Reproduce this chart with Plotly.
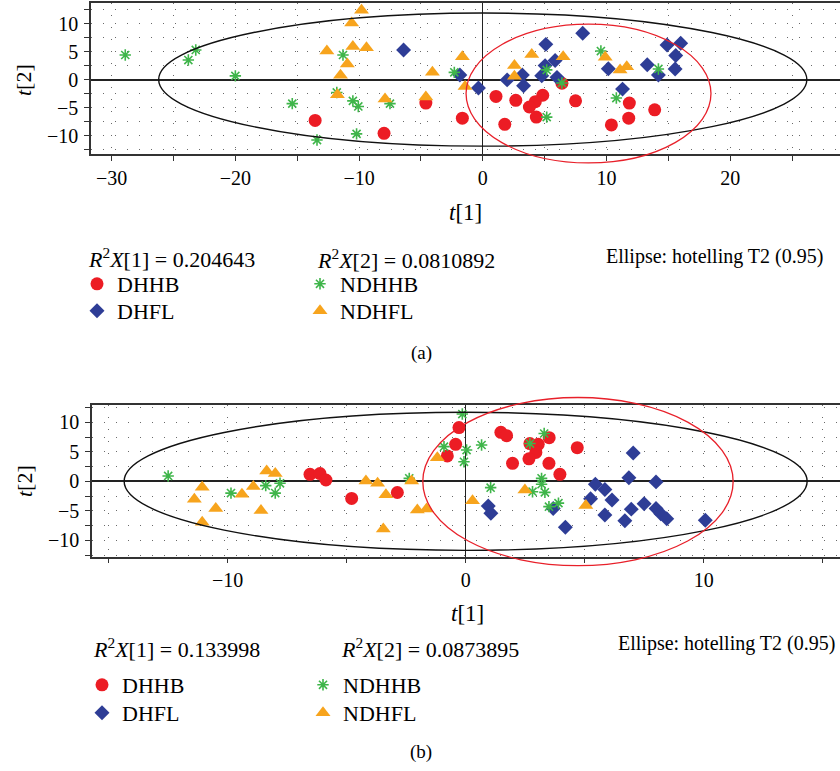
import plotly.graph_objects as go

W, H = 840, 771

# ---------------- panel (a) data ----------------
a_dhhb_x = [-13.55, -7.98, -4.6, -1.65, 1.07, 2.67, 4.85, 4.25, 3.77, 4.33, 1.78, 7.5, 6.4, 11.85, 13.9, 11.8, 10.4]
a_dhhb_y = [-7.3, -9.6, -4.2, -6.9, -3.0, -3.7, -2.8, -3.95, -4.9, -6.7, -8.0, -3.8, -0.65, -4.2, -5.4, -6.9, -8.1]
a_dhfl_x = [-6.4, -1.85, -0.35, 1.97, 3.2, 3.3, 4.77, 6.0, 5.1, 5.04, 5.85, 8.08, 10.15, 13.3, 14.2, 15.55, 14.9, 16.0, 15.6, 11.3]
a_dhfl_y = [5.3, 0.84, -1.5, -0.05, 0.84, -1.1, 0.7, 0.4, 6.3, 2.5, 3.4, 8.3, 1.95, 2.65, 0.84, 1.9, 6.2, 6.5, 4.3, -1.7]
a_ndhhb_x = [-28.9, -23.2, -23.8, -20.0, -15.4, -13.4, -11.3, -11.8, -10.5, -10.06, -10.2, -7.5, -2.3, 5.17, 6.4, 5.17, 9.55, 14.2, 10.8]
a_ndhhb_y = [4.4, 5.3, 3.5, 0.66, -4.3, -10.8, 4.4, -2.3, -3.8, -4.8, -9.7, -4.3, 1.3, 1.73, -0.6, -6.7, 5.1, 1.9, -3.3]
a_ndhfl_x = [-9.8, -10.6, -12.6, -10.5, -9.4, -10.95, -11.5, -11.75, -7.9, -4.6, -4.07, -1.65, -1.43, 3.96, 6.5, 2.56, 2.56, 9.9, 11.1, 11.64]
a_ndhfl_y = [12.4, 10.1, 5.1, 5.9, 5.7, 2.8, 0.8, -2.7, -3.45, -3.1, 1.3, 4.1, -1.25, 4.5, 4.1, 2.5, 0.6, 4.0, 1.73, 2.3]
a_r2x1 = "0.204643"
a_r2x2 = "0.0810892"
a_hot_ellipse = (0.0, 0.0, 26.2, 11.9)      # cx, cy, semi-x, semi-y
a_red_ellipse = (8.55, -2.5, 9.9, 12.4)
a_xticks = [-30, -20, -10, 0, 10, 20]
a_yticks = [-10, -5, 0, 5, 10]

# ---------------- panel (b) data ----------------
b_dhhb_x = [-6.54, -6.12, -5.87, -4.79, -2.87, -0.77, -0.42, -0.28, 1.48, 1.72, 3.51, 2.7, 3.05, 2.95, 4.69, 1.97, 2.66, 3.5, 3.96]
b_dhhb_y = [1.18, 1.3, 0.22, -2.9, -1.9, 4.3, 6.27, 9.1, 8.3, 7.73, 7.4, 6.4, 6.27, 4.9, 5.7, 3.05, 3.8, 3.05, 1.18]
b_dhfl_x = [0.95, 1.06, 3.68, 4.19, 7.04, 6.86, 8.0, 5.45, 5.85, 5.25, 6.15, 5.85, 6.69, 6.96, 7.5, 8.0, 8.2, 8.45, 10.07]
b_dhfl_y = [-4.2, -5.4, -4.6, -7.8, 4.8, 0.6, -0.1, -0.5, -1.4, -2.95, -3.17, -5.7, -6.7, -4.72, -3.8, -4.6, -5.5, -6.35, -6.6]
b_ndhhb_x = [-12.5, -9.86, -8.4, -7.8, -8.0, -2.37, -0.91, -0.14, 0.04, -0.07, 0.67, 3.3, 2.7, 3.19, 3.19, 3.33, 2.81, 1.05, 3.9, 3.5]
b_ndhhb_y = [0.9, -2.0, -0.74, -0.34, -2.0, 0.5, 5.87, 11.4, 5.3, 3.3, 6.15, 8.1, 6.4, 0.5, -0.5, -1.87, -1.76, -1.08, -3.7, -4.3]
b_ndhfl_x = [-11.07, -11.4, -10.5, -11.07, -9.4, -8.92, -8.36, -8.0, -8.6, -4.19, -3.7, -3.35, -3.46, -2.03, -1.64, -2.27, -1.19, 0.29, 2.49, 5.05]
b_ndhfl_y = [-1.0, -3.05, -4.6, -6.95, -2.2, -0.9, 1.75, 1.3, -4.97, 0.05, -0.34, -2.3, -8.1, -4.87, -4.7, 0.05, 4.0, -3.3, -1.47, -4.1]
b_r2x1 = "0.133998"
b_r2x2 = "0.0873895"
b_hot_ellipse = (0.0, 0.0, 14.35, 11.7)
b_red_ellipse = (4.72, -0.05, 6.52, 14.25)
b_xticks = [-10, 0, 10]
b_yticks = [-10, -5, 0, 5, 10]

group_names = ["DHHB", "DHFL", "NDHHB", "NDHFL"]

# ---------------- styles ----------------
FONT = "Liberation Serif"
RED = "#ec1c24"
BLUE = "#2e3d96"
GREEN = "#3fb54a"
ORANGE = "#f7a41d"
GRID = "#6a6a6a"
FRAME = "#333333"
GRIDDASH = "1px,11px"
TICK_SIZE = 20
TEXT_SIZE = 22

styles = {
    "DHHB": dict(symbol="circle", size=13, color=RED, line=dict(width=0)),
    "DHFL": dict(symbol="diamond", size=11.5, color=BLUE, line=dict(width=0)),
    "NDHHB": dict(symbol="asterisk-open", size=9.5, color=GREEN, line=dict(width=1.6, color=GREEN)),
    "NDHFL": dict(symbol="triangle-up", size=13, color=ORANGE, line=dict(width=0)),
}

# layout geometry (pixels)
A_LEFT, A_TOP, A_BOTTOM = 91, 3.3, 154
B_LEFT, B_TOP, B_BOTTOM = 92, 405, 556.7
A_XRANGE = [-31.67, 28.88]
A_YRANGE = [-13.3, 13.64]
B_XRANGE = [-15.70, 15.73]
B_YRANGE = [-12.78, 12.93]
# legend symbol centres (pixels) per panel, in group order
A_LEG = [(97, 284), (97, 311), (320, 284), (320, 311)]
B_LEG = [(102, 685), (102, 713), (323, 685), (323, 713)]


def py(p):
    return 1 - p / H


def px(p):
    return p / W


fig = go.Figure()

panels = [
    ("x", "y", [(a_dhhb_x, a_dhhb_y), (a_dhfl_x, a_dhfl_y), (a_ndhhb_x, a_ndhhb_y), (a_ndhfl_x, a_ndhfl_y)], A_LEG),
    ("x2", "y2", [(b_dhhb_x, b_dhhb_y), (b_dhfl_x, b_dhfl_y), (b_ndhhb_x, b_ndhhb_y), (b_ndhfl_x, b_ndhfl_y)], B_LEG),
]
legends = {}
k = 0
for xa_id, ya_id, series, legpos in panels:
    for name, (xs, ys), (lx, ly) in zip(group_names, series, legpos):
        k += 1
        lid = "legend" if k == 1 else "legend%d" % k
        legends[lid] = dict(
            bgcolor="rgba(0,0,0,0)", borderwidth=0, xanchor="left", yanchor="middle",
            x=px(lx - 20), y=py(ly), font=dict(family=FONT, size=TEXT_SIZE, color="black"),
            orientation="v", tracegroupgap=0,
        )
        fig.add_trace(go.Scatter(
            x=xs, y=ys, mode="markers", name=name, xaxis=xa_id, yaxis=ya_id,
            marker=styles[name], legend=lid, showlegend=True, cliponaxis=False,
        ))


def axis_common():
    return dict(
        showline=True, mirror=True, linecolor=FRAME, linewidth=1.5,
        ticks="outside", ticklen=5, tickwidth=1, tickcolor=FRAME,
        showgrid=True, gridcolor=GRID, gridwidth=1.2, griddash=GRIDDASH,
        zeroline=True, zerolinecolor="#222222",
        tickfont=dict(family=FONT, size=TICK_SIZE, color="black"),
        fixedrange=True, automargin=False,
    )


def minor(d):
    return dict(dtick=d, tick0=0, ticks="outside", ticklen=5, tickcolor=FRAME,
                showgrid=True, gridcolor=GRID, gridwidth=1.2, griddash=GRIDDASH)


xa = axis_common()
xa.update(domain=[px(A_LEFT), 1], range=A_XRANGE, tickvals=a_xticks, anchor="y",
          zerolinewidth=1.3, minor=minor(5))
ya = axis_common()
ya.update(domain=[py(A_BOTTOM), py(A_TOP)], range=A_YRANGE, tickvals=a_yticks, anchor="x",
          zerolinewidth=2, minor=minor(2.5), ticklabelstandoff=2)
xb = axis_common()
xb.update(domain=[px(B_LEFT), 1], range=B_XRANGE, tickvals=b_xticks, anchor="y2",
          zerolinewidth=1.3, minor=minor(5))
yb = axis_common()
yb.update(domain=[py(B_BOTTOM), py(B_TOP)], range=B_YRANGE, tickvals=b_yticks, anchor="x2",
          zerolinewidth=2, minor=minor(2.5), ticklabelstandoff=2)

shapes = []


def ellipse_shape(e, xref, yref, color, width, yrange=None):
    cx, cy, rx, ry = e
    y0, y1 = cy - ry, cy + ry
    if yrange is not None:  # express y in the axis domain so only x is clipped
        span = yrange[1] - yrange[0]
        y0 = (y0 - yrange[0]) / span
        y1 = (y1 - yrange[0]) / span
    return dict(type="circle", xref=xref, yref=yref, x0=cx - rx, x1=cx + rx, y0=y0, y1=y1,
                line=dict(color=color, width=width), layer="above")


shapes.append(ellipse_shape(a_hot_ellipse, "x", "y", "#111111", 1.4))
shapes.append(ellipse_shape(a_red_ellipse, "x", "y domain", "#e8202a", 1.3, A_YRANGE))
shapes.append(ellipse_shape(b_hot_ellipse, "x2", "y2", "#111111", 1.4))
shapes.append(ellipse_shape(b_red_ellipse, "x2", "y2 domain", "#e8202a", 1.3, B_YRANGE))

ann = []


def text(t, x, y, xanchor="left", angle=0, size=TEXT_SIZE):
    ann.append(dict(text=t, x=px(x), y=py(y), xref="paper", yref="paper", xanchor=xanchor,
                    yanchor="middle", showarrow=False, textangle=angle,
                    font=dict(family=FONT, size=size, color="black")))


# axis titles
text("<i>t</i>[2]", 24, 80, "center", -90, 22)
text("<i>t</i>[1]", 465, 212, "center", size=23)
text("<i>t</i>[2]", 24, 481, "center", -90, 22)
text("<i>t</i>[1]", 467, 613, "center", size=23)
# R2 and ellipse notes
text("<i>R</i><sup>2</sup><i>X</i>[1] = " + a_r2x1, 86, 258)
text("<i>R</i><sup>2</sup><i>X</i>[2] = " + a_r2x2, 315, 259)
text("Ellipse: hotelling T2 (0.95)", 825, 257, "right", size=20)
text("<i>R</i><sup>2</sup><i>X</i>[1] = " + b_r2x1, 91, 648)
text("<i>R</i><sup>2</sup><i>X</i>[2] = " + b_r2x2, 339, 648)
text("Ellipse: hotelling T2 (0.95)", 837, 643, "right", size=20)
# captions
text("(a)", 421, 353, "center", size=19)
text("(b)", 421, 752, "center", size=19)

fig.update_layout(
    width=W, height=H,
    margin=dict(l=0, r=0, t=0, b=0, pad=0, autoexpand=False),
    paper_bgcolor="white", plot_bgcolor="white",
    xaxis=xa, yaxis=ya, xaxis2=xb, yaxis2=yb,
    shapes=shapes, annotations=ann,
    font=dict(family=FONT),
    **legends,
)

fig.write_html(
    "out.html",
    config={"displayModeBar": False},
    post_script="document.body.style.margin='0';document.body.style.overflow='hidden';"
                "document.documentElement.style.overflow='hidden';",
)
